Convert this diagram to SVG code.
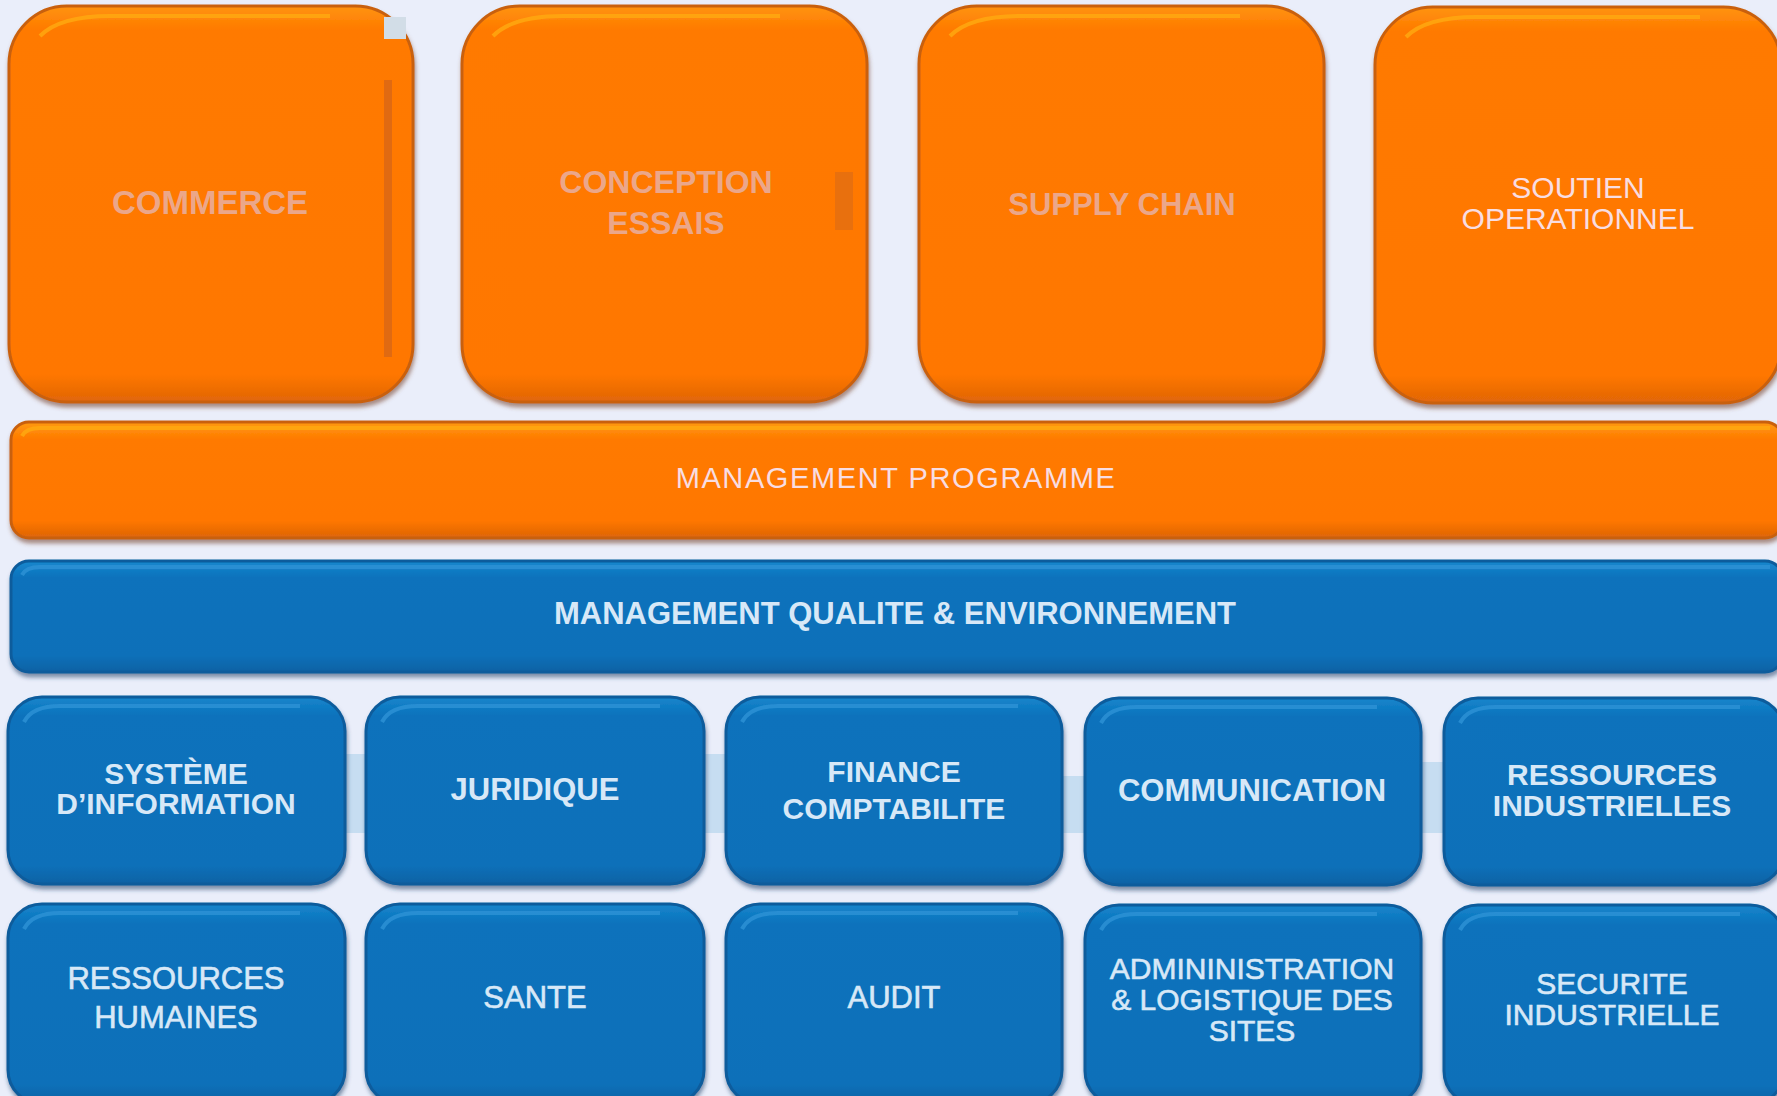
<svg xmlns="http://www.w3.org/2000/svg" width="1777" height="1096" viewBox="0 0 1777 1096">
  <defs>
    <style>
      .lbl { font-family: "Liberation Sans", Arial, sans-serif; text-anchor: middle; }
      .b { font-weight: bold; }
      .med { stroke: #D7E8F7; stroke-width: 0.6; }
      .salmon { fill: #EBA78A; }
      .pale { fill: #F8DDE2; }
      .ice { fill: #D7E8F7; }
      .orange { fill: url(#gOrange); stroke: #C9610E; stroke-width: 3; filter: url(#shO); }
      .orangeBar { fill: url(#gOrangeBar); stroke: #C9610E; stroke-width: 3; filter: url(#shO); }
      .blue { fill: url(#gBlue); stroke: #0B5C9C; stroke-width: 3; filter: url(#shB); }
      .blueBar { fill: url(#gBlueBar); stroke: #0B5C9C; stroke-width: 3; filter: url(#shB); }
      .glowO { fill: none; stroke: #FFAA10; stroke-width: 4; opacity: 0.8; }
      .glowB { fill: none; stroke: #2E92D6; stroke-width: 4; opacity: 0.8; }
      .gapbar { fill: #C6DDF1; }
    </style>
    <linearGradient id="gOrange" x1="0" y1="0" x2="0" y2="1">
      <stop offset="0" stop-color="#FF9410"/>
      <stop offset="0.06" stop-color="#FF7A00"/>
      <stop offset="0.93" stop-color="#FF7700"/>
      <stop offset="1" stop-color="#E06508"/>
    </linearGradient>
    <linearGradient id="gOrangeBar" x1="0" y1="0" x2="0" y2="1">
      <stop offset="0" stop-color="#FF9A12"/>
      <stop offset="0.15" stop-color="#FF7A00"/>
      <stop offset="0.85" stop-color="#FF7700"/>
      <stop offset="1" stop-color="#DD6408"/>
    </linearGradient>
    <linearGradient id="gBlue" x1="0" y1="0" x2="0" y2="1">
      <stop offset="0" stop-color="#1786CC"/>
      <stop offset="0.1" stop-color="#0A72BC"/>
      <stop offset="0.9" stop-color="#0870B9"/>
      <stop offset="1" stop-color="#0A62A4"/>
    </linearGradient>
    <linearGradient id="gBlueBar" x1="0" y1="0" x2="0" y2="1">
      <stop offset="0" stop-color="#1A88CE"/>
      <stop offset="0.15" stop-color="#0A72BC"/>
      <stop offset="0.85" stop-color="#0870B9"/>
      <stop offset="1" stop-color="#0A62A4"/>
    </linearGradient>
    <filter id="shO" x="-5%" y="-5%" width="110%" height="115%">
      <feDropShadow dx="1" dy="4" stdDeviation="2" flood-color="#7A4A35" flood-opacity="0.6"/>
    </filter>
    <filter id="shB" x="-5%" y="-5%" width="110%" height="115%">
      <feDropShadow dx="1" dy="4" stdDeviation="2" flood-color="#1E3F66" flood-opacity="0.55"/>
    </filter>
  </defs>

  <rect width="1777" height="1096" fill="#EAEEFA"/>

  <!-- light strips between the first row of support boxes -->
  <g id="strips">
    <rect class="gapbar" x="340" y="754" width="27" height="79"/>
    <rect class="gapbar" x="700" y="754" width="27" height="79"/>
    <rect class="gapbar" x="1059" y="776" width="27" height="57"/>
    <rect class="gapbar" x="1418" y="762" width="27" height="71"/>
  </g>

  <g id="connectors"></g>

  <!-- core business processes -->
  <g id="commerce">
    <rect class="orange" x="9" y="6" width="404" height="396" rx="58"/>
    <path class="glowO" d="M40 36 Q60 16 110 16 L330 16"/>
    <rect x="384" y="17" width="22" height="22" fill="#D2DDE7"/>
    <rect x="384" y="80" width="8" height="277" fill="#E06A12"/>
    <text class="lbl b salmon" x="210" y="214" font-size="33">COMMERCE</text>
  </g>
  <g id="conception">
    <rect class="orange" x="462" y="6" width="405" height="396" rx="58"/>
    <path class="glowO" d="M493 36 Q513 16 563 16 L780 16"/>
    <rect x="835" y="172" width="18" height="58" fill="#E8700E"/>
    <text class="lbl b salmon" x="666" y="193" font-size="32">CONCEPTION</text>
    <text class="lbl b salmon" x="666" y="234" font-size="32">ESSAIS</text>
  </g>
  <g id="supply-chain">
    <rect class="orange" x="919" y="6" width="405" height="396" rx="58"/>
    <path class="glowO" d="M950 36 Q970 16 1020 16 L1240 16"/>
    <text class="lbl b salmon" x="1122" y="215" font-size="31">SUPPLY CHAIN</text>
  </g>
  <g id="soutien">
    <rect class="orange" x="1375" y="7" width="406" height="396" rx="58"/>
    <path class="glowO" d="M1406 37 Q1426 17 1476 17 L1700 17"/>
    <text class="lbl pale" x="1578" y="198" font-size="30">SOUTIEN</text>
    <text class="lbl pale" x="1578" y="229" font-size="30">OPERATIONNEL</text>
  </g>

  <g id="management-programme">
    <rect class="orangeBar" x="11" y="422" width="1772" height="116" rx="18"/>
    <path class="glowO" d="M22 436 Q26 428 40 428 L1770 428"/>
    <text class="lbl pale" x="896" y="488" font-size="29" letter-spacing="1.6">MANAGEMENT PROGRAMME</text>
  </g>

  <g id="management-qualite">
    <rect class="blueBar" x="11" y="561" width="1772" height="111" rx="18"/>
    <path class="glowB" d="M22 575 Q26 567 40 567 L1770 567"/>
    <text class="lbl b ice" x="895" y="624" font-size="31">MANAGEMENT QUALITE &amp; ENVIRONNEMENT</text>
  </g>

  <!-- support functions, first row -->
  <g id="systeme-information">
    <rect class="blue" x="8" y="697" width="337" height="187" rx="34"/>
    <path class="glowB" d="M24 722 Q32 706 60 706 L300 706"/>
    <text class="lbl b ice" x="176" y="784" font-size="30">SYSTÈME</text>
    <text class="lbl b ice" x="176" y="814" font-size="30">D’INFORMATION</text>
  </g>
  <g id="juridique">
    <rect class="blue" x="366" y="697" width="338" height="187" rx="34"/>
    <path class="glowB" d="M382 722 Q390 706 418 706 L660 706"/>
    <text class="lbl b ice" x="535" y="800" font-size="31">JURIDIQUE</text>
  </g>
  <g id="finance">
    <rect class="blue" x="726" y="697" width="336" height="187" rx="34"/>
    <path class="glowB" d="M742 722 Q750 706 778 706 L1018 706"/>
    <text class="lbl b ice" x="894" y="782" font-size="30">FINANCE</text>
    <text class="lbl b ice" x="894" y="819" font-size="30">COMPTABILITE</text>
  </g>
  <g id="communication">
    <rect class="blue" x="1085" y="698" width="336" height="187" rx="34"/>
    <path class="glowB" d="M1101 723 Q1109 707 1137 707 L1377 707"/>
    <text class="lbl b ice" x="1252" y="801" font-size="31">COMMUNICATION</text>
  </g>
  <g id="ressources-industrielles">
    <rect class="blue" x="1444" y="698" width="340" height="187" rx="34"/>
    <path class="glowB" d="M1460 723 Q1468 707 1496 707 L1740 707"/>
    <text class="lbl b ice" x="1612" y="785" font-size="30">RESSOURCES</text>
    <text class="lbl b ice" x="1612" y="816" font-size="30">INDUSTRIELLES</text>
  </g>

  <!-- support functions, second row -->
  <g id="ressources-humaines">
    <rect class="blue" x="8" y="904" width="337" height="200" rx="34"/>
    <path class="glowB" d="M24 929 Q32 913 60 913 L300 913"/>
    <text class="lbl ice med" x="176" y="989" font-size="31">RESSOURCES</text>
    <text class="lbl ice med" x="176" y="1028" font-size="31">HUMAINES</text>
  </g>
  <g id="sante">
    <rect class="blue" x="366" y="904" width="338" height="200" rx="34"/>
    <path class="glowB" d="M382 929 Q390 913 418 913 L660 913"/>
    <text class="lbl ice med" x="535" y="1008" font-size="31">SANTE</text>
  </g>
  <g id="audit">
    <rect class="blue" x="726" y="904" width="336" height="200" rx="34"/>
    <path class="glowB" d="M742 929 Q750 913 778 913 L1018 913"/>
    <text class="lbl ice med" x="894" y="1008" font-size="31">AUDIT</text>
  </g>
  <g id="administration">
    <rect class="blue" x="1085" y="905" width="336" height="200" rx="34"/>
    <path class="glowB" d="M1101 930 Q1109 914 1137 914 L1377 914"/>
    <text class="lbl ice med" x="1252" y="979" font-size="30">ADMININISTRATION</text>
    <text class="lbl ice med" x="1252" y="1010" font-size="30">&amp; LOGISTIQUE DES</text>
    <text class="lbl ice med" x="1252" y="1041" font-size="30">SITES</text>
  </g>
  <g id="securite-industrielle">
    <rect class="blue" x="1444" y="905" width="340" height="200" rx="34"/>
    <path class="glowB" d="M1460 930 Q1468 914 1496 914 L1740 914"/>
    <text class="lbl ice med" x="1612" y="994" font-size="30">SECURITE</text>
    <text class="lbl ice med" x="1612" y="1025" font-size="30">INDUSTRIELLE</text>
  </g>
</svg>
